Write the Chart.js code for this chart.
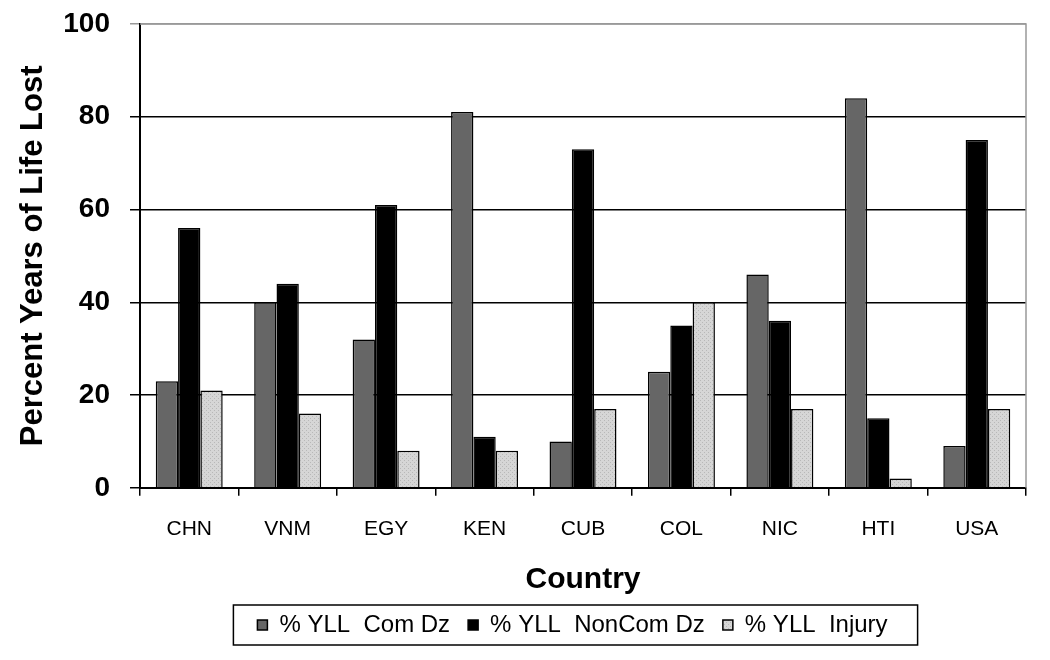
<!DOCTYPE html>
<html>
<head>
<meta charset="utf-8">
<script src="https://cdn.jsdelivr.net/npm/chart.js@4"></script>
<style>
  html, body { margin: 0; padding: 0; background: #fff; }
  #wrap { width: 1050px; height: 660px; }
</style>
</head>
<body>
<div id="wrap"><canvas id="myChart" width="1050" height="660"></canvas></div>
<script>
// datos
var countries = ['CHN', 'VNM', 'EGY', 'KEN', 'CUB', 'COL', 'NIC', 'HTI', 'USA'];
var comDz = [23, 40, 32, 81, 10, 25, 46, 84, 9];
var nonComDz = [56, 44, 61, 11, 73, 35, 36, 15, 75];
var injury = [21, 16, 8, 8, 17, 40, 17, 2, 17];
var yTicks = [0, 20, 40, 60, 80, 100];

var FONT = '"Liberation Sans", Arial, sans-serif';

// patron punteado para Injury
function dotPattern() {
  var c = document.createElement('canvas');
  c.width = 4; c.height = 4;
  var g = c.getContext('2d');
  g.fillStyle = '#d6d6d6';
  g.fillRect(0, 0, 4, 4);
  g.fillStyle = '#b8b8b8';
  g.fillRect(0, 0, 1, 1);
  g.fillRect(2, 2, 1, 1);
  return g.createPattern(c, 'repeat');
}

// mover la leyenda (centrada bajo el area del grafico)
var DX = 52, DY = -3;
var legendShift = {
  id: 'legendShift',
  afterUpdate: function (chart) {
    var lg = chart.legend;
    lg.left += DX; lg.right += DX;
    lg.top += DY; lg.bottom += DY;
    (lg.legendHitBoxes || []).forEach(function (b) {
      b.left += DX;
      b.top += DY;
    });
  }
};

// marco de la leyenda y borde gris arriba/derecha
var framePlugin = {
  id: 'frame',
  afterDraw: function (chart) {
    var ctx = chart.ctx;
    var a = chart.chartArea;
    ctx.save();
    ctx.strokeStyle = '#999';
    ctx.lineWidth = 1.5;
    ctx.beginPath();
    ctx.moveTo(a.left, a.top);
    ctx.lineTo(a.right, a.top);
    ctx.lineTo(a.right, a.bottom);
    ctx.stroke();

    var boxes = chart.legend.legendHitBoxes;
    if (boxes && boxes.length) {
      var l = Math.min.apply(null, boxes.map(function (b) { return b.left; }));
      var r = Math.max.apply(null, boxes.map(function (b) { return b.left + b.width; }));
      var t = boxes[0].top;
      var h = boxes[0].height;
      ctx.strokeStyle = '#000';
      ctx.lineWidth = 1.5;
      ctx.strokeRect(l - 24, t - 8, (r - l) + 54, h + 16);
    }
    ctx.restore();
  }
};

var ctx = document.getElementById('myChart').getContext('2d');
var chart = new Chart(ctx, {
  type: 'bar',
  data: {
    labels: countries,
    datasets: [{
      label: '% YLL  Com Dz',
      data: comDz,
      backgroundColor: '#666666',
      borderColor: '#000',
      borderWidth: 1.5
    }, {
      label: '% YLL  NonCom Dz',
      data: nonComDz,
      backgroundColor: '#000000',
      borderColor: '#000',
      borderWidth: 1.5
    }, {
      label: '% YLL  Injury',
      data: injury,
      backgroundColor: dotPattern(),
      borderColor: '#000',
      borderWidth: 1.5
    }]
  },
  options: {
    responsive: false,
    animation: false,
    devicePixelRatio: 1,
    layout: { padding: { top: 0, right: 24, left: 15, bottom: 10 } },
    datasets: {
      bar: { categoryPercentage: 0.68, barPercentage: 1.0 }
    },
    plugins: {
      tooltip: { enabled: false },
      legend: {
        position: 'bottom',
        labels: {
          color: '#000',
          font: { family: FONT, size: 24 },
          boxWidth: 10,
          boxHeight: 10,
          padding: 18
        }
      }
    },
    scales: {
      x: {
        grid: {
          offset: true,
          drawOnChartArea: false,
          color: '#000',
          lineWidth: 1.5,
          tickLength: 8
        },
        border: { color: '#000', width: 2 },
        ticks: {
          color: '#000',
          font: { family: FONT, size: 21 },
          padding: 21
        },
        title: {
          display: true,
          text: 'Country',
          color: '#000',
          font: { family: FONT, size: 30, weight: 'bold', lineHeight: 1.1 },
          padding: { top: 0, bottom: 2 }
        }
      },
      y: {
        min: 0,
        max: 100,
        afterBuildTicks: function (axis) {
          axis.ticks = yTicks.map(function (v) { return { value: v }; });
        },
        afterFit: function (axis) {
          axis.width = 125;
          axis.paddingTop = 24;
        },
        grid: {
          color: function (c) { return c.tick && c.tick.value === 100 ? '#999' : '#000'; },
          lineWidth: 1.5,
          tickLength: 10
        },
        border: { color: '#000', width: 2 },
        ticks: {
          color: '#000',
          font: { family: FONT, size: 28, weight: 'bold', lineHeight: 1 },
          padding: 20
        },
        title: {
          display: true,
          text: 'Percent Years of Life Lost',
          color: '#000',
          font: { family: FONT, size: 31, weight: 'bold' },
          padding: { top: 0, bottom: 14 }
        }
      }
    }
  },
  plugins: [legendShift, framePlugin]
});
</script>
</body>
</html>
